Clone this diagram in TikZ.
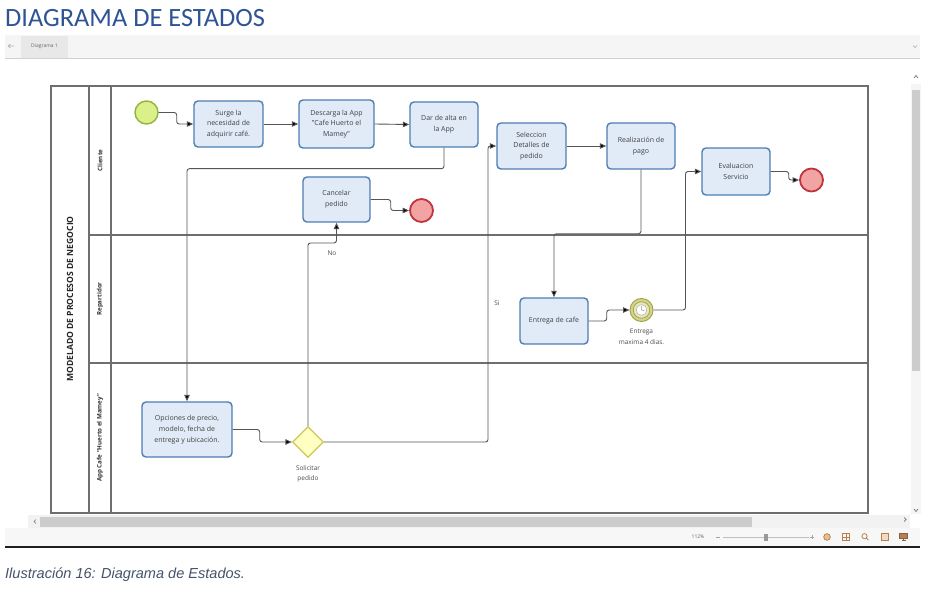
\documentclass[tikz,border=0pt]{standalone}
\usepackage{fontspec}
\setmainfont{Open Sans}
\newfontfamily\titlefont{Carlito}
\newfontfamily\capfont{Liberation Sans}
\usetikzlibrary{arrows.meta,shapes.geometric,calc}
\definecolor{taskfill}{HTML}{E1EBF8}
\definecolor{taskline}{HTML}{4E7DB2}
\definecolor{titleblue}{HTML}{2F5496}
\definecolor{capblue}{HTML}{44546A}
\definecolor{poolline}{HTML}{6E6E6E}
\definecolor{flowline}{HTML}{555555}
\definecolor{startfill}{HTML}{DCF08A}
\definecolor{startline}{HTML}{90B440}
\definecolor{endfill}{HTML}{F2A3A3}
\definecolor{endline}{HTML}{C0343C}
\definecolor{gwfill}{HTML}{FFFFC2}
\definecolor{gwline}{HTML}{CFC65A}
\definecolor{timerfill}{HTML}{D5D58E}
\definecolor{timerline}{HTML}{A4A44E}
\definecolor{iconc}{HTML}{E3A065}
\tikzset{
  taskbox/.style={draw=taskline, fill=taskfill, line width=1.4bp, rounded corners=4bp,
    minimum width=69bp, minimum height=46bp, align=center, inner sep=1bp,
    font=\fontsize{7}{10.8}\selectfont, text=black!75},
  startev/.style={circle, draw=startline, fill=startfill, line width=1.4bp, minimum size=23bp, inner sep=0},
  endev/.style={circle, draw=endline, fill=endfill, line width=1.8bp, minimum size=23bp, inner sep=0},
  gwbox/.style={diamond, aspect=1, draw=gwline, fill=gwfill, line width=1.2bp, minimum size=31bp, inner sep=0},
  timerev/.style={circle, draw=timerline, fill=timerfill, line width=1bp, minimum size=23bp, inner sep=0},
  flow/.style={draw=flowline, line width=0.9bp, rounded corners=2.5bp, -{Triangle[length=6.5bp,width=5.5bp,fill=black]}},
  lbl/.style={font=\fontsize{6.5}{10.5}\selectfont, text=black!70, align=center, inner sep=0},
  lanelbl/.style={rotate=90, font=\bfseries\fontsize{6.2}{7}\selectfont, text=black!80, inner sep=0},
  pool/.style={draw=poolline, line width=1.1bp},
  chev/.style={draw=black!55, line width=0.7bp},
}
\begin{document}
\begin{tikzpicture}[x=1bp,y=-1bp]
\useasboundingbox (0,0) rectangle (933,591);
\fill[white] (0,0) rectangle (933,591);

% title
\node[anchor=base west, inner sep=0, text=titleblue, font=\titlefont\fontsize{26.5}{27}\selectfont] (title) at (5,27) {DIAGRAMA DE ESTADOS};

% toolbar
\fill[black!4] (5,35) rectangle (920,58);
\fill[black!9] (21,36) rectangle (68,58);
\draw[black!18, line width=0.8bp] (5,58.5) -- (920,58.5);
\node[font=\fontsize{5}{5}\selectfont, text=black!60, inner sep=0] (tab) at (44.5,46) {Diagrama 1};
\draw[black!30, line width=0.6bp] (8,46) -- (14,46) (8,46) -- (10.5,44) (8,46) -- (10.5,48);
\draw[black!35, line width=0.6bp] (913,45.5) -- (915,47.5) -- (917,45.5);

% vertical scrollbar
\fill[black!4] (911,84) rectangle (921,514);
\fill[black!20] (912,90) rectangle (920,371);
\draw[chev] (914,78) -- (916,75.5) -- (918,78);
\draw[chev] (914,509) -- (916,511.5) -- (918,509);

% horizontal scrollbar
\fill[black!5] (28,515) rectangle (910,528);
\fill[black!20] (40,516.5) rectangle (752,526.5);
\draw[chev] (36,519.5) -- (34,521.5) -- (36,523.5);
\draw[chev] (904,517.5) -- (906,519.5) -- (904,521.5);

% status bar
\fill[black!3] (5,528) rectangle (920,545.5);
\fill[black!88] (5,545.5) rectangle (920,548.3);
\node[font=\fontsize{5}{5}\selectfont, text=black!60, inner sep=0] (zoom) at (698,537) {112\%};
\draw[black!35, line width=0.5bp] (716,537) -- (720,537);
\draw[black!25, line width=0.5bp] (723,537) -- (809,537);
\fill[black!40] (763.5,533.5) rectangle (768,540.5);
\draw[black!35, line width=0.5bp] (810,537) -- (814,537) (812,535) -- (812,539);
\begin{scope}[line width=0.8bp]
\filldraw[draw=iconc!80!black, fill=iconc!70] (827,537) circle (3.3);
\draw[iconc!80!black] (842.5,533.5) rectangle (849.5,540.5) (846,533.5) -- (846,540.5) (842.5,537) -- (849.5,537);
\draw[iconc!80!black] (864.5,536.2) circle (2.6) (866.4,538.1) -- (868.3,540);
\filldraw[draw=iconc!80!black, fill=iconc!40] (881,533.5) rectangle (888,540.5);
\filldraw[draw=iconc!60!black, fill=iconc!80!black] (899.5,533.5) rectangle (907.5,538.5);
\draw[iconc!60!black] (903.5,538.5) -- (903.5,540.5) (901.5,540.8) -- (905.5,540.8);
\end{scope}

% pool and lanes
\draw[pool] (51,86) rectangle (868,513);
\draw[pool] (89,86) -- (89,513) (111,86) -- (111,513);
\draw[pool] (89,235) -- (868,235) (89,363) -- (868,363);
\node[rotate=90, font=\bfseries\fontsize{8.6}{9}\selectfont, text=black!85, inner sep=0] (pooltitle) at (70,299) {MODELADO DE PROCESOS DE NEGOCIO};
\node[lanelbl] (lcliente) at (100,160.5) {Cliente};
\node[lanelbl] (lrep) at (100,299) {Repartidor};
\node[lanelbl] (lapp) at (100,438) {App Cafe "Huerto el Mamey"};

% nodes
\node[startev] (start) at (146.5,112.5) {};
\node[taskbox] (t1) at (228.5,124) {Surge la\\necesidad de\\adquirir café.};
\node[taskbox, minimum width=75bp, minimum height=48bp] (t2) at (336.5,124) {Descarga la App\\"Cafe Huerto el\\Mamey"};
\node[taskbox, minimum width=68bp, minimum height=45bp] (t3) at (444,124.5) {Dar de alta en\\la App};
\node[taskbox] (t4) at (531.5,146) {Seleccion\\Detalles de\\pedido};
\node[taskbox, minimum width=68bp] (t5) at (641,146) {Realización de\\pago};
\node[taskbox, minimum width=68bp, minimum height=47bp] (t6) at (736,171.5) {Evaluacion\\Servicio};
\node[endev] (end3) at (811.5,180) {};
\node[taskbox, minimum width=67bp, minimum height=45bp] (cancel) at (336.5,199.5) {Cancelar\\pedido};
\node[endev] (end2) at (421.5,210.5) {};
\node[taskbox, minimum width=90bp, minimum height=55bp] (opc) at (187,429.5) {Opciones de precio,\\modelo, fecha de\\entrega y ubicación.};
\node[gwbox] (gw) at (308,442) {};
\node[lbl, anchor=north] (gwlbl) at (308,465) {Solicitar\\pedido};
\node[taskbox, minimum width=68bp] (ent) at (554,321) {Entrega de cafe};
\node[timerev] (timer) at (641.5,310) {};
\draw[timerline, line width=0.8bp, fill=timerfill!60!white] (timer.center) circle (8.3);
\draw[black!30, fill=white, line width=0.5bp] (timer.center) circle (5.3);
\draw[black!45, line width=0.5bp] (timer.center) -- ++(0,-3.8) (timer.center) -- ++(2.8,0.6);
\node[lbl, anchor=north] (timerlbl) at (641.5,329) {Entrega\\maxima 4 dias.};

% connectors
\draw[flow] (start.east) -- ++(18,0) |- (t1.west);
\draw[flow] (t1.east) -- (t2.west);
\draw[flow] (t2.east) -- (t3.west);
\draw[flow] (t3.south) -- ++(0,21) -| (opc.north);
\draw[flow] (opc.east) -- ++(27,0) |- (gw.west);
\coordinate (nobend) at (308,243);
\draw[flow] (gw.north) -- (nobend) -| (cancel.south);
\node[lbl] (nolbl) at (332,253) {No};
\draw[flow] (cancel.east) -- ++(20,0) |- (end2.west);
\coordinate (sibend) at (488,442);
\draw[flow] (gw.east) -- (sibend) |- (t4.west);
\node[lbl] (silbl) at (497,303) {Si};
\draw[flow] (t4.east) -- (t5.west);
\draw[flow] (t5.south) -- ++(0,64) -| (ent.north);
\draw[flow] (ent.east) -- ++(18,0) |- (timer.west);
\draw[flow] (timer.east) -- ++(32,0) |- (t6.west);
\draw[flow] (t6.east) -- ++(18,0) |- (end3.west);

% caption
\node[anchor=base west, inner sep=0, text=capblue, font=\capfont\itshape\fontsize{14.6}{15}\selectfont] (caption) at (5,578) {Ilustración 16: Diagrama de Estados.};
\end{tikzpicture}
\end{document}
